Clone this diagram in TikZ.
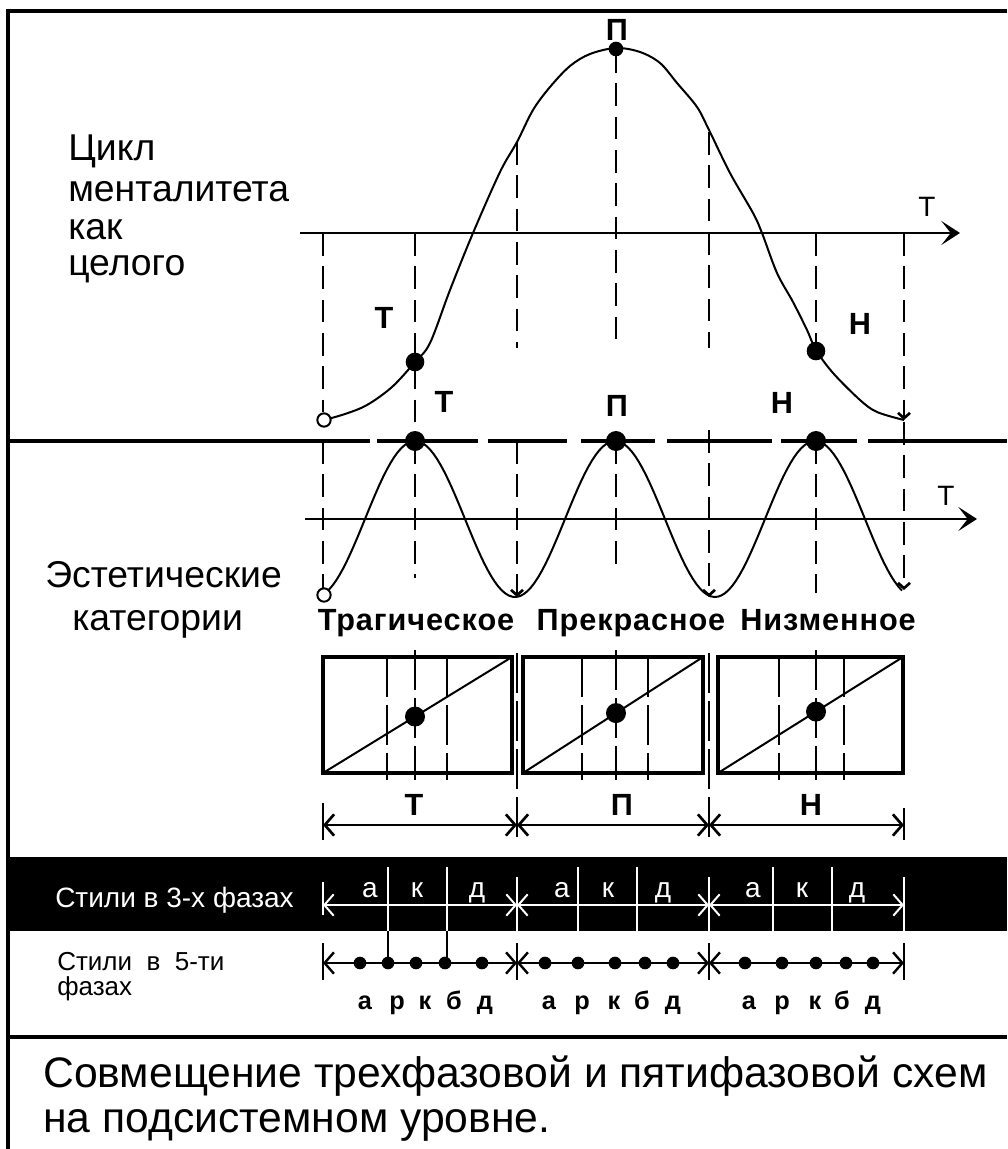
\documentclass[tikz,border=0pt]{standalone}
\usepackage{fontspec}
\setmainfont{Liberation Sans}
\usetikzlibrary{arrows.meta}

\tikzset{
  bigbarb/.tip={Straight Barb[length=7pt,width=16pt]},
  smallbarb/.tip={Straight Barb[length=4pt,width=9pt]},
}

\begin{document}
\begin{tikzpicture}[x=0.75pt,y=-0.75pt,
    frame/.style={line width=2.3pt},
    axis/.style={line width=2.2pt,-{Stealth[length=14pt,width=18pt,inset=7pt]}},
    guide/.style={line width=2pt,dash pattern=on 17pt off 8pt},
    split/.style={line width=2pt,dash pattern=on 30pt off 6pt},
    curve/.style={line width=1.5pt},
    dim/.style={line width=2pt,bigbarb-bigbarb},
    bigdot/.style={circle,fill,inner sep=0pt,minimum size=14pt},
    smalldot/.style={circle,fill,inner sep=0pt,minimum size=9.5pt},
    opendot/.style={circle,draw,fill=white,line width=1.5pt,inner sep=0pt,minimum size=10pt},
    txt/.style={font=\fontsize{28}{28}\selectfont,anchor=base west,inner sep=0pt,text depth=0pt},
    note/.style={font=\fontsize{32}{32}\selectfont,anchor=base west,inner sep=0pt},
    tag/.style={font=\bfseries\fontsize{23}{23}\selectfont,inner sep=0pt},
    cat/.style={font=\bfseries\fontsize{23}{23}\selectfont\addfontfeature{LetterSpace=3},anchor=base,inner sep=0pt},
    ph/.style={font=\fontsize{21}{21}\selectfont,text=white,anchor=base,inner sep=0pt},
    phfive/.style={font=\bfseries\fontsize{19}{19}\selectfont,anchor=base,inner sep=0pt},
  ]
  \useasboundingbox (0,0) rectangle (1007,1149);
  % frame and black band
  \fill (8,857) rectangle (1007,931);
  \draw[frame] (1007,11) -- (8,11) -- (8,1149);
  \draw[frame] (8,1037) -- (1007,1037);
  \foreach \a/\b in {8/370,377/478,488/567,581/655,667/772,781/857,868/1007}
    \draw[frame] (\a,441) -- (\b,441);

  % axes
  \coordinate (axAs) at (300,233);
  \coordinate (axAe) at (960,233);
  \coordinate (axBs) at (305,519);
  \coordinate (axBe) at (977,519);
  \draw[axis] (axAs) -- (axAe);
  \draw[axis] (axBs) -- (axBe);
  \node[font=\fontsize{21}{21}\selectfont] (timeA) at (927,207) {T};
  \node[font=\fontsize{21}{21}\selectfont] (timeB) at (946,496) {T};

  % guides
  \foreach \x/\ya/\yb in {323/233/412, 415/233/441, 517/142/348, 616/50/348, 709/132/348, 816/233/350}
    \draw[guide] (\x,\ya) -- (\x,\yb);
  \draw[guide,-smallbarb] (904,233) -- (904,420);
  \foreach \x/\yb in {323/588, 415/578, 616/570, 816/593}
    \draw[guide] (\x,441) -- (\x,\yb);
  \foreach \x/\ya/\yb in {517/441/597, 709/430/597, 904/422/590}
    \draw[guide,-smallbarb] (\x,\ya) -- (\x,\yb);

  % curves
  \draw[curve] plot[smooth,tension=0.55] coordinates {(324,420) (345,414) (367,405) (392,387)
    (415,362) (430,343) (450,290) (473,233) (500,172) (517,142) (533,110) (550,87) (570,66)
    (590,54) (616,48) (640,52) (660,63) (677,83) (697,107) (709,130) (730,173) (753,213)
    (762,233) (777,273) (793,302) (807,330) (816,350) (833,373) (860,400) (877,412) (904,420)};
  \draw[curve] plot[domain=329:902,samples=160] (\x,{519-78*cos(1.8*(\x-415))});

  % points on the curves
  \node[opendot] (startA) at (324,420) {};
  \node[bigdot] (ptT) at (415,362) {};
  \node[bigdot,minimum size=11pt] (ptP) at (616,49) {};
  \node[bigdot] (ptN) at (816,351) {};
  \node[opendot] (startB) at (324,595) {};
  \foreach \x/\n in {415/T,616/P,816/N}
    \node[bigdot,minimum size=15pt] (peak\n) at (\x,441) {};

  \node[tag] (lblTA) at (384,318) {Т};
  \node[tag] (lblPA) at (617,30) {П};
  \node[tag] (lblNA) at (860,324) {Н};
  \node[tag] (lblTB) at (444,402) {Т};
  \node[tag] (lblPB) at (617,406) {П};
  \node[tag] (lblNB) at (782,403) {Н};

  % left texts
  \foreach \t/\y [count=\i] in {Цикл/160, менталитета/201, как/239, целого/275}
    \node[txt] (cycle\i) at (68,\y) {\t};
  \node[txt] (aesthA) at (45,587) {Эстетические};
  \node[txt] (aesthB) at (72,630) {категории};

  \node[cat] (tragic) at (416,630) {Трагическое};
  \node[cat] (beauty) at (631,630) {Прекрасное};
  \node[cat] (lowly) at (828,630) {Низменное};

  % boxes
  \foreach \l/\r/\m/\p/\q in {323/512/415/387/447, 523/703/616/582/648, 718/903/816/779/844} {
    \pgfmathsetmacro\yd{773-116*(\m-\l)/(\r-\l)}
    \draw[frame] (\l,657) rectangle (\r,773);
    \draw[curve] (\l,773) -- (\r,657);
    \draw[split] (\p,657) -- (\p,780);
    \draw[split] (\q,657) -- (\q,780);
    \draw[split] (\m,650) -- (\m,780);
    \node[bigdot,minimum size=15pt] at (\m,\yd) {};
  }
  \foreach \x in {517,709}
    \draw[split] (\x,653) -- (\x,843);

  % phases T, P, N
  \coordinate (d0) at (323,825);
  \coordinate (d1) at (517,825);
  \coordinate (d2) at (709,825);
  \coordinate (d3) at (904,825);
  \draw[dim] (d0) -- (d1);
  \draw[dim] (d1) -- (d2);
  \draw[dim] (d2) -- (d3);
  \draw[line width=2pt] (323,803) -- (323,840);
  \draw[line width=2pt] (904,808) -- (904,840);
  \node[tag] (phT) at (414,805) {Т};
  \node[tag] (phP) at (622,805) {П};
  \node[tag] (phN) at (811,805) {Н};

  % three phases
  \node[txt,font=\fontsize{21}{21}\selectfont,text=white] (three) at (55,907) {Стили в 3-х фазах};
  \coordinate (e0) at (323,905);
  \coordinate (e1) at (517,905);
  \coordinate (e2) at (709,905);
  \coordinate (e3) at (904,905);
  \draw[dim,white,line width=1.5pt] (e0) -- (e1);
  \draw[dim,white,line width=1.5pt] (e1) -- (e2);
  \draw[dim,white,line width=1.5pt] (e2) -- (e3);
  \draw[white,line width=1.5pt] (323,882) -- (323,915);
  \foreach \x in {517,709,904}
    \draw[white,line width=1.5pt] (\x,877) -- (\x,931);
  \foreach \x in {388,447,578,637,773,832}
    \draw[white,line width=1.5pt] (\x,867) -- (\x,931);
  \foreach \x/\t in {370/а,417/к,477/д,562/а,608/к,663/д,753/а,802/к,857/д}
    \node[ph] at (\x,897) {\t};

  % five phases
  \node[txt,font=\fontsize{19.5}{19.5}\selectfont] (fiveA) at (57,970) {Стили \ в \ 5-ти};
  \node[txt,font=\fontsize{19.5}{19.5}\selectfont] (fiveB) at (57,995) {фазах};
  \coordinate (f0) at (323,963);
  \coordinate (f1) at (517,963);
  \coordinate (f2) at (709,963);
  \coordinate (f3) at (904,963);
  \draw[dim,line width=1.8pt] (f0) -- (f1);
  \draw[dim,line width=1.8pt] (f1) -- (f2);
  \draw[dim,line width=1.8pt] (f2) -- (f3);
  \foreach \x in {323,517,709,904}
    \draw[line width=1.8pt] (\x,943) -- (\x,980);
  \foreach \x in {388,447}
    \draw[line width=2pt] (\x,931) -- (\x,963);
  \foreach \x in {360,388,416,445,482,545,578,615,645,673,745,782,816,846,873}
    \node[smalldot] at (\x,963) {};
  \foreach \x/\t in {365/а,397/р,425/к,454/б,485/д,549/а,582/р,614/к,642/б,673/д,749/а,782/р,815/к,842/б,873/д}
    \node[phfive] at (\x,1009) {\t};

  % caption
  \node[note] (capA) at (43,1087) {Совмещение трехфазовой и пятифазовой схем};
  \node[note] (capB) at (43,1132) {на подсистемном уровне.};
\end{tikzpicture}
\end{document}
